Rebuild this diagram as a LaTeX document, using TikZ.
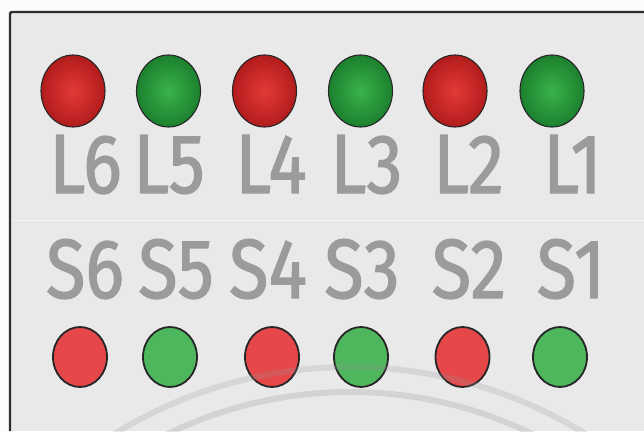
\documentclass[tikz,border=0pt]{standalone}
\usepackage{fontspec}
\usepackage{graphicx}
\newfontfamily\labfont{Fira Sans}[FakeBold=1.6]
\usetikzlibrary{shapes.geometric}
\definecolor{paper}{RGB}{252,252,252}
\definecolor{panel}{RGB}{233,233,233}
\definecolor{framec}{RGB}{45,45,45}
\definecolor{labgray}{RGB}{155,155,155}
\definecolor{redin}{RGB}{226,58,56}
\definecolor{redout}{RGB}{178,28,28}
\definecolor{grnin}{RGB}{58,178,74}
\definecolor{grnout}{RGB}{28,128,46}
\definecolor{redflat}{RGB}{230,72,74}
\definecolor{grnflat}{RGB}{78,182,92}
\definecolor{arcc}{RGB}{150,150,150}
\tikzset{
  ball/.style={ellipse, inner sep=0pt, minimum width=64pt, minimum height=72pt, draw=black!85, line width=1.1pt},
  redball/.style={ball, inner color=redin, outer color=redout},
  grnball/.style={ball, inner color=grnin, outer color=grnout},
  led/.style={ellipse, inner sep=0pt, minimum width=54pt, minimum height=60pt, draw=black!85, line width=1.8pt},
  redled/.style={led, fill=redflat},
  grnled/.style={led, fill=grnflat},
  lab/.style={anchor=base, inner sep=0pt, text=labgray, font=\labfont\fontsize{84}{84}\selectfont},
  arcline/.style={draw=arcc, line width=6pt}
}
\newcommand{\nar}[1]{\scalebox{0.86}[1]{#1}}
\begin{document}
\begin{tikzpicture}[x=1pt,y=-1pt]
\useasboundingbox (0,0) rectangle (644,431);
\fill[paper] (0,0) rectangle (644,431);
\fill[panel] (10,12) rectangle (644,431);
\draw[white, opacity=0.5, line width=0.8pt] (11,220) -- (644,220);
% top 3D lamps
\node[redball] (b6) at (73,91) {};
\node[grnball] (b5) at (168.5,91) {};
\node[redball] (b4) at (264.5,91) {};
\node[grnball] (b3) at (360.5,91) {};
\node[redball] (b2) at (455,91) {};
\node[grnball] (b1) at (552,91) {};
% L labels
\node[lab] (l6) at (85.5,193) {\nar{L6}};
\node[lab] (l5) at (169,193) {\nar{L5}};
\node[lab] (l4) at (271,193) {\nar{L4}};
\node[lab] (l3) at (366.5,193) {\nar{L3}};
\node[lab] (l2) at (468.5,193) {\nar{L2}};
\node[lab] (l1) at (572.5,193) {\nar{L1}};
% S labels
\node[lab] (s6) at (85,298) {\nar{S6}};
\node[lab] (s5) at (176,298) {\nar{S5}};
\node[lab] (s4) at (268,298) {\nar{S4}};
\node[lab] (s3) at (362,298) {\nar{S3}};
\node[lab] (s2) at (469,298) {\nar{S2}};
\node[lab] (s1) at (571,298) {\nar{S1}};
% flat LEDs
\node[redled] (d6) at (80,357) {};
\node[grnled] (d5) at (170,357) {};
\node[redled] (d4) at (272,357) {};
\node[grnled] (d3) at (361,357) {};
\node[redled] (d2) at (462.5,357) {};
\node[grnled] (d1) at (560,357) {};
% faint arcs
\begin{scope}
\clip (10,12) rectangle (644,431);
\draw[arcline, opacity=0.22] (350,814) circle[radius=447];
\draw[arcline, opacity=0.26] (350,808) circle[radius=416];
\end{scope}
% frame
\draw[framec, line width=2.4pt, rounded corners=2pt] (10,431) -- (10,12) -- (644,12);
\end{tikzpicture}
\end{document}
